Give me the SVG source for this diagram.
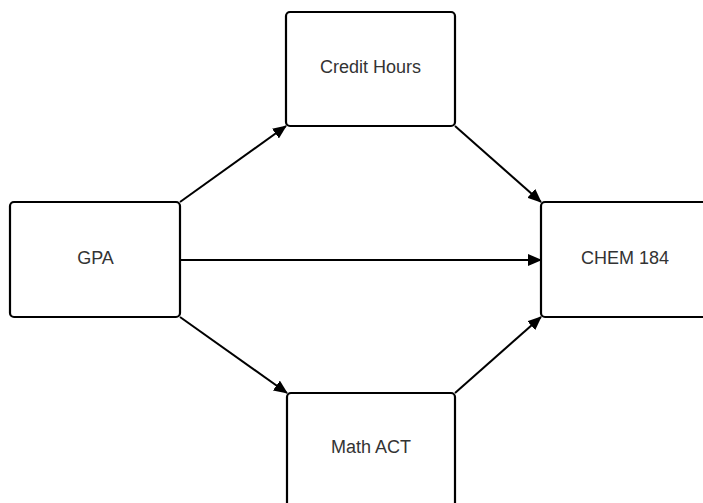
<svg xmlns="http://www.w3.org/2000/svg" width="703" height="503" viewBox="0 0 703 503">
<style>
.box{fill:#fff;stroke:#000;stroke-width:2.2}
.lbl{font-family:"Liberation Sans",Arial,sans-serif;font-size:18px;fill:#333;text-anchor:middle;dominant-baseline:central}
.edge{stroke:#000;stroke-width:2;fill:none;marker-end:url(#ah)}
</style>
<defs>
<marker id="ah" markerUnits="userSpaceOnUse" markerWidth="14" markerHeight="12" refX="13" refY="6" orient="auto">
<path d="M0,0 L14,6 L0,12 Z" fill="#000"/>
</marker>
</defs>
<rect width="703" height="503" fill="#fff"/>
<g id="connectors">
<line class="edge" x1="180" y1="202" x2="286" y2="126"/>
<line class="edge" x1="455" y1="126" x2="541" y2="202"/>
<line class="edge" x1="180" y1="260" x2="541" y2="260"/>
<line class="edge" x1="180" y1="317" x2="287" y2="393"/>
<line class="edge" x1="455" y1="393" x2="541" y2="317"/>
</g>
<g id="credit-hours">
<rect class="box" x="286" y="12" width="169" height="114" rx="4"/>
<text class="lbl" x="370.5" y="67">Credit Hours</text>
</g>
<g id="gpa">
<rect class="box" x="10" y="202" width="170" height="115" rx="4"/>
<text class="lbl" x="95.5" y="258">GPA</text>
</g>
<g id="chem-184">
<rect class="box" x="541" y="202" width="175" height="115" rx="4"/>
<text class="lbl" x="625" y="258">CHEM 184</text>
</g>
<g id="math-act">
<rect class="box" x="287" y="393" width="168" height="120" rx="4"/>
<text class="lbl" x="371" y="447">Math ACT</text>
</g>
</svg>
